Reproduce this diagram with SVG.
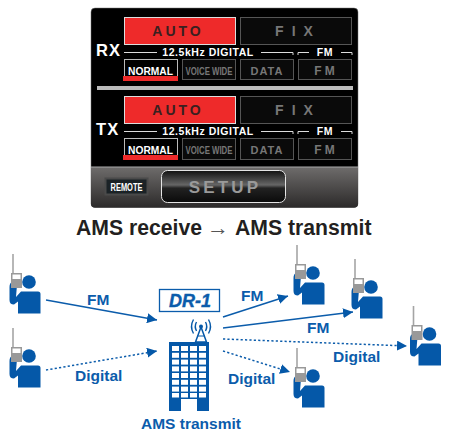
<svg xmlns="http://www.w3.org/2000/svg" xmlns:xlink="http://www.w3.org/1999/xlink" width="452" height="441" viewBox="0 0 452 441">
<style>
text{font-family:"Liberation Sans",Arial,sans-serif;font-weight:bold}
.btn{fill:#0a0a0a;stroke:#555;stroke-width:1}
.dim{fill:#777;text-anchor:middle}
.hdr{fill:#fff;font-size:10.5px;letter-spacing:.55px;text-anchor:middle}
.rule{stroke:#ddd;stroke-width:1;fill:none}
.lab{fill:#0b5cab;font-size:15.5px}
.conn{stroke:#0b5cab;stroke-width:1.5;fill:none}
.dot{stroke-dasharray:2.2 2.2}
.bl{fill:#0558a8}
</style>
<defs>
<marker id="ah" viewBox="0 0 10 10" refX="10" refY="5" markerWidth="10" markerHeight="10" markerUnits="userSpaceOnUse" orient="auto"><path d="M0 0L10 5L0 10Z" fill="#0558a8"/></marker>
<linearGradient id="bot" x1="0" y1="0" x2="0" y2="1"><stop offset="0" stop-color="#6e6c6b"/><stop offset="1" stop-color="#2c2a2a"/></linearGradient>
<linearGradient id="setup" x1="0" y1="0" x2="0" y2="1"><stop offset="0" stop-color="#111"/><stop offset=".45" stop-color="#666"/><stop offset=".55" stop-color="#222"/><stop offset="1" stop-color="#0a0a0a"/></linearGradient>
<g id="person">
<path d="M13 254V273" stroke="#a5a5a5" stroke-width="1.6" fill="none"/>
<path d="M9.500 287Q9.500 283 12 282L17 285L16 297L21 291.500H38Q40.500 291.500 40.500 294V313.500H18V301.500L14 304.500Q9.500 304.500 9.500 300Z" class="bl"/>
<circle cx="29" cy="282" r="6.800" class="bl"/>
<rect x="11" y="273" width="11" height="15" fill="#999"/>
<rect x="12.500" y="274.500" width="8" height="4.500" fill="#fff"/>
</g>
</defs>
<rect width="452" height="441" fill="#fff"/>
<g id="panel">
<rect x="91" y="8" width="267" height="199.500" rx="4" fill="#000" stroke="#777" stroke-width=".5"/>
<path d="M91 167H358V203.500a4 4 0 0 1-4 4H95a4 4 0 0 1-4-4Z" fill="url(#bot)"/>
<path d="M91 167H358" stroke="#aaa" stroke-width="1"/>
<rect x="97" y="86" width="256" height="4" fill="#bbb"/>
</g>
<g id="rx">
<text x="96" y="56" fill="#fff" font-size="16.500" letter-spacing="1.200">RX</text>
<g id="rx-auto"><rect x="124.500" y="17.500" width="111" height="27" fill="#ee2a2a" stroke="#ddd"/><text x="178" y="36" fill="#3a2020" font-size="14" letter-spacing="3" text-anchor="middle">AUTO</text></g>
<g id="rx-fix"><rect x="240.500" y="17.500" width="111" height="27" class="btn"/><text x="298" y="36" class="dim" font-size="14" letter-spacing="8">FIX</text></g>
<text x="208" y="56" class="hdr">12.5kHz DIGITAL</text>
<text x="325" y="56" class="hdr" letter-spacing="2">FM</text>
<path class="rule" d="M124 52.500H157M261 52.500H293V55M298 55V52.500H309M341 52.500H352V55"/>
<g id="rx-normal"><rect x="124.500" y="59.500" width="53" height="20" fill="#000" stroke="#bbb"/><rect x="123" y="76" width="55" height="5" fill="#ee2a2a"/><text x="150.500" y="74.500" fill="#fff" font-size="11" text-anchor="middle" textLength="45" lengthAdjust="spacingAndGlyphs">NORMAL</text></g>
<g id="rx-voice"><rect x="182.500" y="59.500" width="53" height="20" class="btn"/><text x="209" y="74.500" class="dim" font-size="11" textLength="47" lengthAdjust="spacingAndGlyphs">VOICE WIDE</text></g>
<g id="rx-data"><rect x="240.500" y="59.500" width="53" height="20" class="btn"/><text x="267" y="74.500" class="dim" font-size="11" letter-spacing="1">DATA</text></g>
<g id="rx-fm"><rect x="298.500" y="59.500" width="53" height="20" class="btn"/><text x="326" y="74.500" class="dim" font-size="12" letter-spacing="3">FM</text></g>
</g>
<g id="tx">
<text x="96" y="135" fill="#fff" font-size="16.500" letter-spacing="1.200">TX</text>
<g id="tx-auto"><rect x="124.500" y="96.500" width="111" height="27" fill="#ee2a2a" stroke="#ddd"/><text x="178" y="115" fill="#3a2020" font-size="14" letter-spacing="3" text-anchor="middle">AUTO</text></g>
<g id="tx-fix"><rect x="240.500" y="96.500" width="111" height="27" class="btn"/><text x="298" y="115" class="dim" font-size="14" letter-spacing="8">FIX</text></g>
<text x="208" y="134.500" class="hdr">12.5kHz DIGITAL</text>
<text x="325" y="134.500" class="hdr" letter-spacing="2">FM</text>
<path class="rule" d="M124 131.500H157M261 131.500H293V134M298 134V131.500H309M341 131.500H352V134"/>
<g id="tx-normal"><rect x="124.500" y="138.500" width="53" height="20" fill="#000" stroke="#bbb"/><rect x="123" y="155" width="55" height="5" fill="#ee2a2a"/><text x="150.500" y="153.500" fill="#fff" font-size="11" text-anchor="middle" textLength="45" lengthAdjust="spacingAndGlyphs">NORMAL</text></g>
<g id="tx-voice"><rect x="182.500" y="138.500" width="53" height="21" class="btn"/><text x="209" y="153.500" class="dim" font-size="11" textLength="47" lengthAdjust="spacingAndGlyphs">VOICE WIDE</text></g>
<g id="tx-data"><rect x="240.500" y="138.500" width="53" height="21" class="btn"/><text x="267" y="153.500" class="dim" font-size="11" letter-spacing="1">DATA</text></g>
<g id="tx-fm"><rect x="298.500" y="138.500" width="53" height="21" class="btn"/><text x="326" y="153.500" class="dim" font-size="12" letter-spacing="3">FM</text></g>
</g>
<g id="remote"><rect x="105.500" y="178.500" width="42" height="16" fill="#1b2226" stroke="#4a4a4a" stroke-width="2"/><text x="126.500" y="190.500" fill="#fff" font-size="10" text-anchor="middle" textLength="32" lengthAdjust="spacingAndGlyphs">REMOTE</text></g>
<g id="setup-btn"><rect x="161.500" y="170.500" width="124" height="32" rx="6" fill="url(#setup)" stroke="#e5e5e5" stroke-width="1"/><text x="225" y="193" fill="#9a9a9a" font-size="17" letter-spacing="3.200" text-anchor="middle">SETUP</text></g>
<g id="title"><text x="76" y="235" fill="#231f20" font-size="21.200">AMS receive</text><text x="207" y="235" fill="#555" font-size="22" font-weight="normal">→</text><text x="235" y="235" fill="#231f20" font-size="21.200">AMS transmit</text></g>
<g id="connectors">
<path class="conn" marker-end="url(#ah)" d="M46 300L157 320"/>
<path class="conn dot" marker-end="url(#ah)" d="M46 370L157 351"/>
<path class="conn" marker-end="url(#ah)" d="M223 317L288 296"/>
<path class="conn" marker-end="url(#ah)" d="M223 328L353 312"/>
<path class="conn dot" marker-end="url(#ah)" d="M223 339L407 346"/>
<path class="conn dot" marker-end="url(#ah)" d="M223 351L290 372"/>
</g>
<g id="user-1"><use xlink:href="#person" href="#person"/></g>
<g id="user-2"><use xlink:href="#person" href="#person" y="74"/></g>
<g id="user-3"><use xlink:href="#person" href="#person" x="284" y="-9"/></g>
<g id="user-4"><use xlink:href="#person" href="#person" x="342" y="5"/></g>
<g id="user-5"><use xlink:href="#person" href="#person" x="400.500" y="52"/></g>
<g id="user-6"><use xlink:href="#person" href="#person" x="284" y="94"/></g>
<g id="dr1"><rect x="159.500" y="289.500" width="60" height="22" fill="#fff" stroke="#0b5cab" stroke-width="1.300"/><text x="190" y="306.500" fill="#0b5cab" font-size="18" font-style="italic" text-anchor="middle" stroke="#0b5cab" stroke-width=".4">DR-1</text></g>
<g id="building">
<path d="M201 327L195.500 342H206.500Z" fill="none" stroke="#0558a8" stroke-width="1.500"/>
<path d="M197 336H205" stroke="#0558a8" stroke-width="1"/>
<circle cx="201" cy="326.500" r="2" class="bl"/>
<path d="M196.500 322Q194 326.500 196.500 331M205.500 322Q208 326.500 205.500 331M193.500 319.500Q189.500 326.500 193.500 333.500M208.500 319.500Q212.500 326.500 208.500 333.500" fill="none" stroke="#0558a8" stroke-width="1.400"/>
<rect x="169" y="342" width="40" height="69" class="bl"/>
<g fill="#fff">
<rect x="172" y="346" width="7" height="5"/><rect x="181" y="346" width="7" height="5"/><rect x="190" y="346" width="7" height="5"/><rect x="199" y="346" width="7" height="5"/>
<rect x="172" y="352.800" width="7" height="5"/><rect x="181" y="352.800" width="7" height="5"/><rect x="190" y="352.800" width="7" height="5"/><rect x="199" y="352.800" width="7" height="5"/>
<rect x="172" y="359.600" width="7" height="5"/><rect x="181" y="359.600" width="7" height="5"/><rect x="190" y="359.600" width="7" height="5"/><rect x="199" y="359.600" width="7" height="5"/>
<rect x="172" y="366.400" width="7" height="5"/><rect x="181" y="366.400" width="7" height="5"/><rect x="190" y="366.400" width="7" height="5"/><rect x="199" y="366.400" width="7" height="5"/>
<rect x="172" y="373" width="7" height="5"/><rect x="181" y="373" width="7" height="5"/><rect x="190" y="373" width="7" height="5"/><rect x="199" y="373" width="7" height="5"/>
<rect x="172" y="379.800" width="7" height="5"/><rect x="181" y="379.800" width="7" height="5"/><rect x="190" y="379.800" width="7" height="5"/><rect x="199" y="379.800" width="7" height="5"/>
<rect x="172" y="386.600" width="7" height="5"/><rect x="181" y="386.600" width="7" height="5"/><rect x="190" y="386.600" width="7" height="5"/><rect x="199" y="386.600" width="7" height="5"/>
<rect x="172" y="393" width="7" height="4.500"/><rect x="181" y="393" width="7" height="4.500"/><rect x="190" y="393" width="7" height="4.500"/><rect x="199" y="393" width="7" height="4.500"/>
<rect x="181" y="399" width="16" height="12"/>
</g>
</g>
<g id="labels">
<text class="lab" x="87" y="305">FM</text>
<text class="lab" x="75" y="381">Digital</text>
<text class="lab" x="241" y="301">FM</text>
<text class="lab" x="307" y="333">FM</text>
<text class="lab" x="333" y="362">Digital</text>
<text class="lab" x="228" y="384">Digital</text>
<text class="lab" x="141" y="428.500" font-size="16.700">AMS transmit</text>
</g>
</svg>
